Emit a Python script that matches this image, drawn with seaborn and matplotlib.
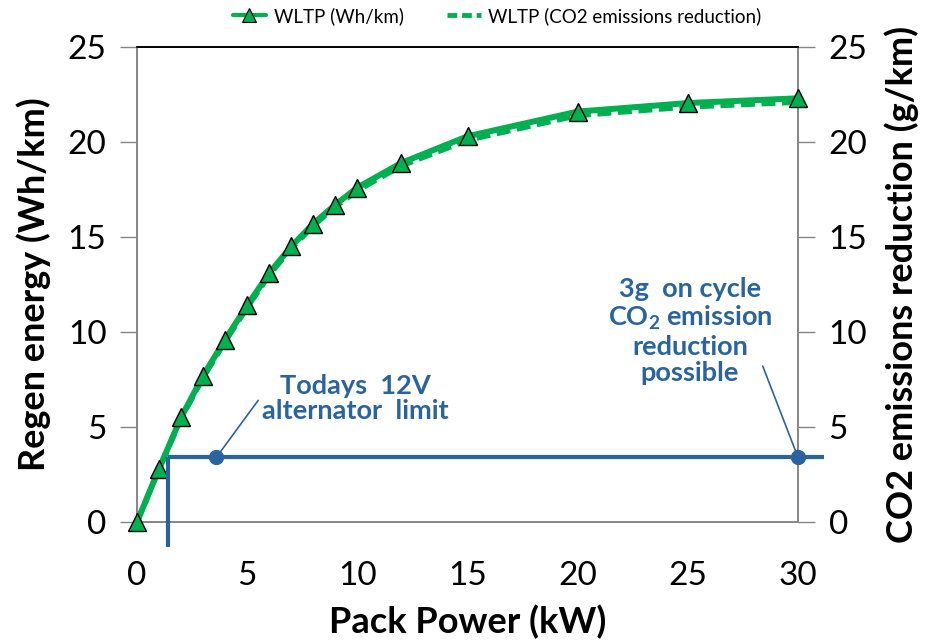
import matplotlib
matplotlib.use("Agg")
import matplotlib.pyplot as plt
import seaborn as sns
import pandas as pd
from matplotlib.lines import Line2D

# ---- data ----
pack_power = [0, 1, 2, 3, 4, 5, 6, 7, 8, 9, 10, 12, 15, 20, 25, 30]
regen_wh_km = [0, 2.8, 5.5, 7.7, 9.6, 11.4, 13.1, 14.5, 15.7, 16.7, 17.6, 18.9, 20.3, 21.6, 22.05, 22.3]
co2_reduction = [0, 2.8, 5.45, 7.6, 9.5, 11.3, 13.0, 14.4, 15.6, 16.6, 17.45, 18.75, 20.1, 21.4, 21.85, 22.1]
alt_limit_kw = 1.4
alt_level = 3.4
line_end_kw = 31.2
dot_x = [3.6, 30]
x_ticks = [0, 5, 10, 15, 20, 25, 30]
y_ticks = [0, 5, 10, 15, 20, 25]

sns.set_style("white")
plt.rcParams['font.family'] = ['Lato', 'DejaVu Sans']
plt.rcParams['mathtext.fontset'] = 'custom'
plt.rcParams['mathtext.rm'] = 'Lato'
plt.rcParams['mathtext.bf'] = 'Lato:bold'
plt.rcParams['text.color'] = 'black'
plt.rcParams['axes.labelcolor'] = 'black'
plt.rcParams['xtick.labelcolor'] = 'black'
plt.rcParams['ytick.labelcolor'] = 'black'

GREEN = "#00B050"
BLUE = "#2A64A0"
GRAY = "#868686"

fig = plt.figure(figsize=(9.29, 6.42), dpi=100)
ax = fig.add_axes([0.1475, 0.187, 0.859 - 0.1475, 0.9268 - 0.187])
ax2 = ax.twinx()

df = pd.DataFrame({"power": pack_power, "wh": regen_wh_km, "co2": co2_reduction})

sns.lineplot(data=df, x="power", y="co2", ax=ax2, color=GREEN, lw=4,
             dashes=False, linestyle=(0, (2.5, 1.2)), zorder=2)
ax2.set_zorder(1)
ax.set_zorder(2)
ax.patch.set_visible(False)
sns.lineplot(data=df, x="power", y="wh", ax=ax, color=GREEN, lw=4.3,
             marker="^", markersize=13, markerfacecolor=GREEN,
             markeredgecolor="black", markeredgewidth=1.0, zorder=3)
for ln in ax.lines:
    ln.set_clip_on(False)

# alternator limit lines
ax.plot([alt_limit_kw, alt_limit_kw], [-1.3, alt_level], color=BLUE, lw=3,
        clip_on=False, zorder=4, solid_capstyle='butt')
ax.plot([alt_limit_kw, line_end_kw], [alt_level, alt_level], color=BLUE, lw=3,
        clip_on=False, zorder=4, solid_capstyle='butt')
ax.scatter(dot_x, [alt_level] * len(dot_x), s=100, color=BLUE, zorder=5,
           clip_on=False)

ax.annotate("", xy=(dot_x[0], alt_level), xytext=(5.5, 6.4),
            arrowprops=dict(arrowstyle="-", color=BLUE, lw=1.2,
                            shrinkA=0, shrinkB=0))
ax.annotate("", xy=(dot_x[1], alt_level), xytext=(28.4, 8.2),
            arrowprops=dict(arrowstyle="-", color=BLUE, lw=1.2,
                            shrinkA=0, shrinkB=0), annotation_clip=False)

ax.text(9.9, 6.5, "Todays  12V\nalternator  limit", color=BLUE,
        fontsize=19.5, fontweight="bold", ha="center", va="center",
        linespacing=1.07)
ax.text(25.1, 10.05, "3g  on cycle\nCO$_\\mathbf{2}$ emission\nreduction\npossible",
        color=BLUE, fontsize=19.5, fontweight="bold", ha="center", va="center",
        linespacing=1.12)

for a in (ax, ax2):
    a.set_ylim(0, 25)
    a.set_yticks(y_ticks)
ax.set_xticks(x_ticks)
ax.set_xlim(0, 30)

ax.tick_params(axis="both", labelsize=24, length=12, width=1, color=GRAY,
               direction="out", pad=16, labelcolor="black")
ax.tick_params(axis="y", pad=10)
ax2.tick_params(axis="y", labelsize=24, length=12, width=1, color=GRAY,
                direction="out", pad=10, labelcolor="black")

ax.set_xlabel("Pack Power (kW)", fontsize=26, fontweight="bold", labelpad=10,
              color="black")
ax.set_ylabel("Regen energy (Wh/km)", fontsize=26, fontweight="bold", labelpad=12,
              color="black")
ax2.set_ylabel("CO2 emissions reduction (g/km)", fontsize=26, fontweight="bold",
               labelpad=12, color="black")

for a in (ax, ax2):
    for s in a.spines.values():
        s.set_color(GRAY)
        s.set_linewidth(1.2)
    a.spines["top"].set_color("black")
    a.grid(False)

handles = [
    Line2D([], [], color=GREEN, lw=3, marker="^", markersize=10,
           markerfacecolor=GREEN, markeredgecolor="black", markeredgewidth=0.8),
    Line2D([], [], color=GREEN, lw=3.5, linestyle=(0, (2.0, 1.0))),
]
fig.legend(handles, ["WLTP (Wh/km)", "WLTP (CO2 emissions reduction)"],
           loc="center", bbox_to_anchor=(0.535, 0.975), ncol=2, frameon=False,
           fontsize=13.5, handlelength=1.8, columnspacing=2.3, handletextpad=0.4,
           labelcolor="black")

fig.savefig("out.png", dpi=100)
